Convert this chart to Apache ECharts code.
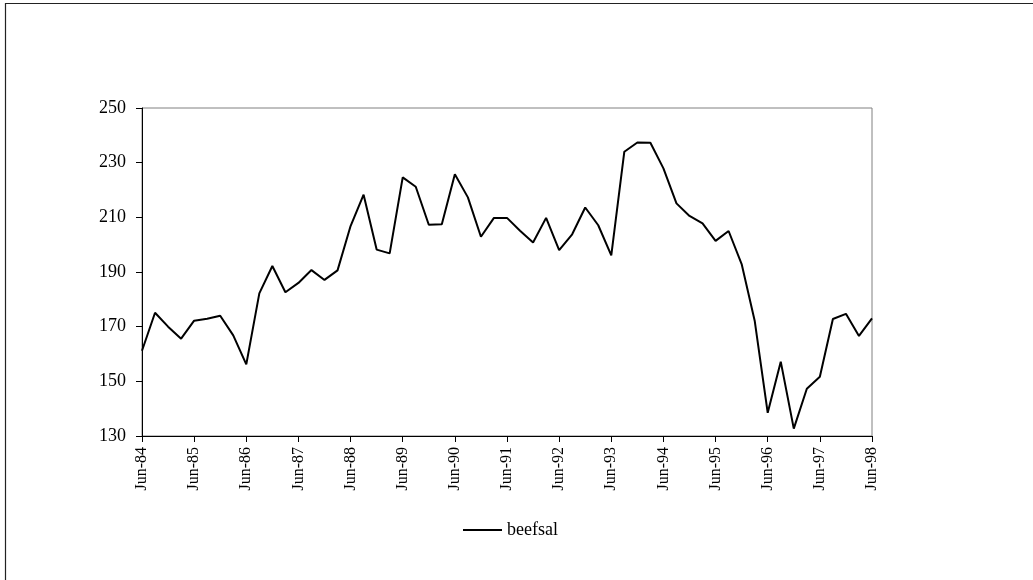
<!DOCTYPE html>
<html>
<head>
<meta charset="utf-8">
<script src="https://cdn.jsdelivr.net/npm/echarts@6/dist/echarts.min.js"></script>
<style>
  html, body { margin: 0; padding: 0; background: #fff; }
  #chart { width: 1033px; height: 580px; }
</style>
</head>
<body>
<div id="chart"></div>
<script>
// Quarterly periods, June 1984 to June 1998
const quarters = [
  'Jun-84','Sep-84','Dec-84','Mar-85','Jun-85','Sep-85','Dec-85','Mar-86',
  'Jun-86','Sep-86','Dec-86','Mar-87','Jun-87','Sep-87','Dec-87','Mar-88',
  'Jun-88','Sep-88','Dec-88','Mar-89','Jun-89','Sep-89','Dec-89','Mar-90',
  'Jun-90','Sep-90','Dec-90','Mar-91','Jun-91','Sep-91','Dec-91','Mar-92',
  'Jun-92','Sep-92','Dec-92','Mar-93','Jun-93','Sep-93','Dec-93','Mar-94',
  'Jun-94','Sep-94','Dec-94','Mar-95','Jun-95','Sep-95','Dec-95','Mar-96',
  'Jun-96','Sep-96','Dec-96','Mar-97','Jun-97','Sep-97','Dec-97','Mar-98',
  'Jun-98'
];

// beefsal series, one value per quarter
const beefsal = [
  161.2, 175.1, 170.0, 165.6, 172.2, 172.9, 174.0, 166.8, 156.2, 182.2,
  192.2, 182.6, 186.0, 190.7, 187.1, 190.6, 206.8, 218.3, 198.2, 196.8,
  224.6, 221.2, 207.3, 207.5, 225.8, 217.3, 202.9, 209.8, 209.8, 205.1,
  200.8, 209.8, 198.0, 203.8, 213.6, 207.1, 196.1, 234.0, 237.4, 237.3,
  227.9, 215.1, 210.5, 207.8, 201.4, 205.0, 192.9, 172.2, 138.5, 157.2,
  132.7, 147.3, 151.7, 172.8, 174.7, 166.6, 173.0
];

const yTicks = { min: 130, max: 250, step: 20 };
const seriesName = 'beefsal';

const serif = '"Liberation Serif", "Times New Roman", serif';

const chart = echarts.init(document.getElementById('chart'), null, { renderer: 'canvas' });

chart.setOption({
  animation: false,
  backgroundColor: '#fff',
  graphic: [{
    type: 'rect',
    shape: { x: 5.5, y: 3.5, width: 1100, height: 700 },
    style: { fill: 'none', stroke: '#222', lineWidth: 1.2 },
    silent: true
  }],
  grid: {
    left: 142, top: 108, right: 161, bottom: 144,
    show: true, borderColor: '#808080', borderWidth: 1, backgroundColor: '#fff'
  },
  legend: {
    data: [{ name: seriesName, icon: 'rect' }],
    left: 458, top: 516,
    itemWidth: 39, itemHeight: 2, itemGap: 6,
    textStyle: { fontFamily: serif, fontSize: 18, color: '#000' }
  },
  xAxis: {
    type: 'category',
    data: quarters,
    boundaryGap: false,
    axisLine: { lineStyle: { color: '#000', width: 1 } },
    axisTick: { show: true, interval: 3, length: 6, lineStyle: { color: '#000' } },
    axisLabel: {
      interval: 3, rotate: 90, margin: 11,
      fontFamily: serif, fontSize: 16, color: '#000'
    },
    splitLine: { show: false }
  },
  yAxis: {
    type: 'value',
    min: yTicks.min, max: yTicks.max, interval: yTicks.step,
    axisLine: { show: true, lineStyle: { color: '#000', width: 1 } },
    axisTick: { show: true, length: 6, lineStyle: { color: '#000' } },
    axisLabel: { margin: 16, fontFamily: serif, fontSize: 18, color: '#000' },
    splitLine: { show: false }
  },
  series: [{
    name: seriesName,
    type: 'line',
    data: beefsal,
    showSymbol: false,
    symbol: 'none',
    lineStyle: { color: '#000', width: 2 },
    itemStyle: { color: '#000' }
  }]
});
</script>
</body>
</html>
